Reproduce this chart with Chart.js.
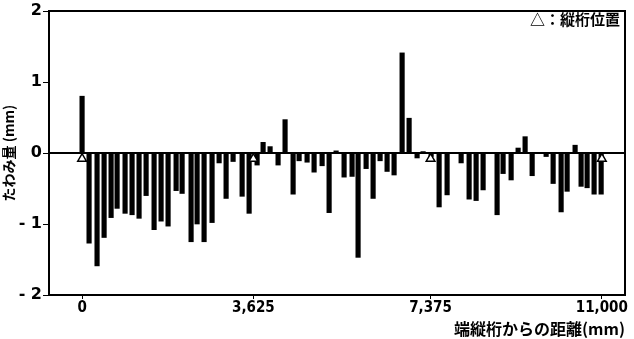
<!DOCTYPE html>
<html>
<head>
<meta charset="utf-8">
<script src="https://cdn.jsdelivr.net/npm/chart.js@4"></script>
<style>
  html, body { margin: 0; padding: 0; background: #fff; }
  #wrap { position: relative; width: 634px; height: 339px; }
  #note {
    position: absolute; top: 8px; right: 14px;
    font: bold 15px "Noto Sans CJK JP", sans-serif; color: #000;
  }
</style>
</head>
<body>
<div id="wrap">
  <canvas id="chart" width="634" height="339"></canvas>
  <div id="note">△：縦桁位置</div>
</div>
<script>
// distance from edge girder (mm) and deflection (mm)
var positions = [0, 148, 317, 466, 614, 741, 910, 1058, 1206, 1355,
    1524, 1672, 1820, 1990, 2117, 2307, 2434, 2582, 2751, 2900,
    3048, 3196, 3387, 3535, 3704, 3831, 3979, 4148, 4296, 4466,
    4593, 4762, 4910, 5080, 5228, 5376, 5545, 5714, 5841, 6011,
    6159, 6307, 6455, 6603, 6773, 6921, 7090, 7217, 7387, 7556,
    7725, 8022, 8191, 8339, 8487, 8783, 8910, 9080, 9228, 9376,
    9525, 9821, 9969, 10138, 10265, 10434, 10561, 10688, 10836, 10985];
var deflections = [0.80, -1.27, -1.59, -1.19, -0.91, -0.78, -0.85, -0.87, -0.92, -0.60,
    -1.08, -0.96, -1.03, -0.53, -0.57, -1.25, -1.00, -1.25, -0.98, -0.14,
    -0.64, -0.12, -0.61, -0.85, -0.17, 0.15, 0.09, -0.17, 0.47, -0.58,
    -0.11, -0.13, -0.27, -0.18, -0.84, 0.03, -0.34, -0.33, -1.47, -0.22,
    -0.64, -0.11, -0.26, -0.31, 1.41, 0.49, -0.07, 0.02, -0.05, -0.76,
    -0.59, -0.14, -0.65, -0.67, -0.52, -0.87, -0.29, -0.38, 0.07, 0.23,
    -0.32, -0.05, -0.43, -0.83, -0.54, 0.11, -0.47, -0.49, -0.58, -0.58];
// main girder positions (triangles) and x tick labels
var girderPositions = [0, 3625, 7375, 11000];
var xTicks = [0, 3625, 7375, 11000];
var yTicks = [-2, -1, 0, 1, 2];

// frame around the plot and the zero line
var framePlugin = {
    id: 'frame',
    afterDraw: function (chart) {
        var ctx = chart.ctx, a = chart.chartArea;
        var y0 = chart.scales.y.getPixelForValue(0);
        ctx.save();
        ctx.strokeStyle = '#000';
        ctx.lineWidth = 2;
        ctx.strokeRect(a.left, a.top, a.right - a.left, a.bottom - a.top);
        ctx.beginPath();
        ctx.moveTo(a.left, y0);
        ctx.lineTo(a.right, y0);
        ctx.stroke();
        ctx.restore();
    }
};

var canvas = document.getElementById('chart');
var chart = new Chart(canvas, {
    type: 'bar',
    data: {
        datasets: [{
            type: 'scatter',
            data: girderPositions.map(p => ({ x: p, y: -0.08 })),
            pointStyle: 'triangle',
            radius: 5,
            backgroundColor: '#fff',
            borderColor: '#000',
            borderWidth: 1.5,
            order: 0
        }, {
            data: positions.map((p, i) => ({ x: p, y: deflections[i] })),
            backgroundColor: '#000',
            barThickness: 4.5,
            order: 1
        }]
    },
    options: {
        responsive: false,
        animation: false,
        layout: { padding: { top: 11, right: 9, left: 0, bottom: 0 } },
        plugins: { legend: { display: false }, tooltip: { enabled: false } },
        scales: {
            x: {
                type: 'linear',
                offset: false,
                bounds: 'data',
                min: -700,
                max: 11490,
                afterBuildTicks: function (scale) {
                    scale.ticks = xTicks.map(v => ({ value: v }));
                },
                afterFit: function (scale) { scale.height = 44; },
                ticks: {
                    color: '#000',
                    font: { family: 'DejaVu Sans Condensed, sans-serif', weight: 'bold', size: 15 },
                    padding: 0,
                    maxRotation: 0,
                    callback: v => v.toLocaleString('en-US')
                },
                grid: { display: true, offset: false, drawOnChartArea: false, drawTicks: true, tickLength: 4, color: '#000' },
                border: { display: false },
                title: {
                    display: true,
                    text: '端縦桁からの距離(mm)',
                    align: 'end',
                    color: '#000',
                    font: { family: 'Noto Sans CJK JP', weight: 'bold', size: 16 },
                    padding: { top: 0, bottom: 0 }
                }
            },
            y: {
                min: -2,
                max: 2,
                afterBuildTicks: function (scale) {
                    scale.ticks = yTicks.map(v => ({ value: v }));
                },
                afterFit: function (scale) { scale.width = 49; },
                ticks: {
                    color: '#000',
                    font: { family: 'DejaVu Sans', weight: 'bold', size: 16 },
                    padding: 1,
                    callback: v => v < 0 ? '- ' + Math.abs(v) : String(v)
                },
                grid: { display: true, drawOnChartArea: false, drawTicks: true, tickLength: 6, color: '#000' },
                border: { display: false },
                title: {
                    display: true,
                    text: 'たわみ量 (mm)',
                    color: '#000',
                    font: { family: 'Noto Sans CJK JP', weight: 'bold', size: 14 },
                    padding: { top: 0, bottom: 0 }
                }
            }
        }
    },
    plugins: [framePlugin]
});
</script>
</body>
</html>
